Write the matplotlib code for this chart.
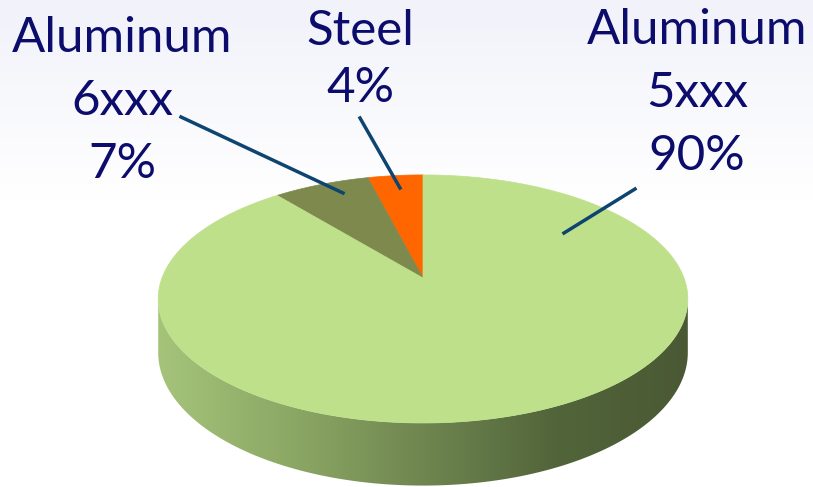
import numpy as np
import matplotlib.pyplot as plt
from matplotlib.patches import Polygon
from matplotlib.colors import LinearSegmentedColormap

# data (slices run counter-clockwise from 12 o'clock)
names = ['Steel', 'Aluminum\n6xxx', 'Aluminum\n5xxx']
shares = [4, 7, 90]
top_colors = ['#FF6600', '#7E8A4D', '#BEE08B']

# label layout: text centre x, first baseline y, leader start, leader end
label_x = [360, 122, 697]
label_y = [45, 52, 44]
leader_from = [(360, 118), (181, 117), (635, 189)]
leader_to = [(400, 188), (343, 193), (564, 233)]

# simple perspective view of the pie disc, in pixel units
cx, cy = 423, 278
ax_r, ay_r, k = 261, 120.5, 0.169
depth = 52


def project(alpha, r=1.0, drop=0.0):
    x = -np.sin(alpha) * r
    y = -np.cos(alpha) * r
    d = 1 - k * y
    return cx + ax_r * x / d, cy + (ay_r * y + drop) / d


fig = plt.figure(figsize=(8.13, 4.87), dpi=100)
ax = fig.add_axes([0, 0, 1, 1])
ax.set_xlim(0, 813)
ax.set_ylim(487, 0)
ax.axis('off')

# faint bluish wash at the top of the slide
bg = np.linspace(0, 1, 200)[:, None]
bg_cmap = LinearSegmentedColormap.from_list('bg', ['#F1F2FA', '#FFFFFF'])
ax.imshow(bg, cmap=bg_cmap, extent=(0, 813, 200, 0), aspect='auto', zorder=0)

# side wall: front half between the two silhouette points
a_left = np.arccos(-k)
a_right = 2 * np.pi - a_left
t = np.linspace(a_left, a_right, 200)
tx, ty = project(t)
bx, by = project(t[::-1], drop=depth)
side = Polygon(np.column_stack([np.r_[tx, bx], np.r_[ty, by]]),
               closed=True, facecolor='none', edgecolor='none', zorder=1)
ax.add_patch(side)
side_cmap = LinearSegmentedColormap.from_list(
    'side', ['#A5C47A', '#8CA865', '#6F8650', '#52653A', '#4A5934'])
grad = np.linspace(0, 1, 256)[None, :]
im = ax.imshow(grad, cmap=side_cmap, extent=(tx.min(), tx.max(), by.max(), ty.min()),
               aspect='auto', zorder=1)
im.set_clip_path(side)

# top face slices
fracs = np.array(shares, dtype=float) / sum(shares)
edges = np.r_[0, np.cumsum(fracs)] * 2 * np.pi
for i in range(len(shares)):
    a = np.linspace(edges[i], edges[i + 1], max(int(fracs[i] * 400), 8))
    px, py = project(a)
    pts = np.column_stack([np.r_[cx, px], np.r_[cy, py]])
    ax.add_patch(Polygon(pts, closed=True, facecolor=top_colors[i],
                         edgecolor=top_colors[i], linewidth=0.5, zorder=2))

# labels and leader lines
for i, name in enumerate(names):
    lines = name.split('\n') + ['%d%%' % shares[i]]
    step = 57 if i == 0 else 63
    for j, s in enumerate(lines):
        ax.text(label_x[i], label_y[i] + j * step, s, ha='center', va='baseline',
                fontsize=35.5, family='Lato', color='#0C0C6C', zorder=4)
    ax.plot([leader_from[i][0], leader_to[i][0]], [leader_from[i][1], leader_to[i][1]],
            color='#0E4570', linewidth=2.5, zorder=3)

fig.savefig('out.png', dpi=100)
